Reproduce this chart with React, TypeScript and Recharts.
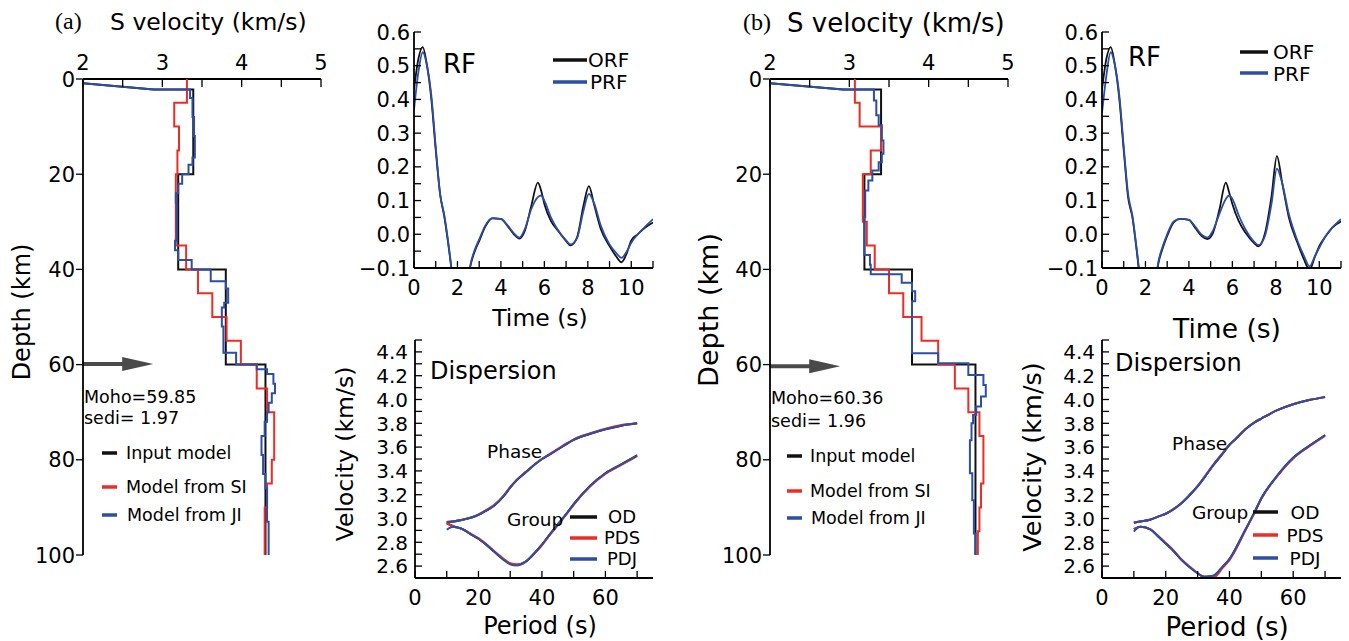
import React from "react";
import {
  ScatterChart,
  Scatter,
  LineChart,
  Line,
  XAxis,
  YAxis,
  ReferenceLine,
} from "recharts";

const BLACK = "#111111";
const RED = "#EE2C24";
const BLUE = "#2D4EA5";
const ARROW = "#4A4A4A";
const FONT = "DejaVu Sans";

// ---- S-velocity profiles: [velocity km/s, depth km] ----
const INPUT_A: [number, number][] = [
  [2.0, 0.9], [2.89, 2.2], [3.39, 2.2], [3.39, 20], [3.2, 20], [3.2, 40],
  [3.8, 40], [3.8, 60], [4.3, 60], [4.3, 100],
];
const SI_A: [number, number][] = [
  [3.31, 0], [3.31, 5], [3.15, 5], [3.15, 10], [3.21, 10], [3.21, 15],
  [3.19, 15], [3.19, 20], [3.17, 20], [3.17, 35], [3.3, 35], [3.3, 40],
  [3.45, 40], [3.45, 45], [3.63, 45], [3.63, 50], [3.81, 50], [3.81, 55],
  [3.99, 55], [3.99, 60], [4.19, 60], [4.19, 65], [4.32, 65], [4.32, 70],
  [4.41, 70], [4.41, 80], [4.38, 80], [4.38, 85], [4.32, 85], [4.32, 90],
  [4.29, 90], [4.29, 100],
];
const JI_A: [number, number][] = [
  [2.0, 0.9], [2.89, 2.2], [3.35, 2.2], [3.35, 4], [3.38, 4], [3.38, 8],
  [3.4, 8], [3.4, 12], [3.41, 12], [3.41, 16.5], [3.38, 16.5], [3.38, 18],
  [3.33, 18], [3.33, 20], [3.25, 20], [3.25, 22], [3.2, 22], [3.2, 24],
  [3.17, 24], [3.17, 26], [3.18, 26], [3.18, 34], [3.16, 34], [3.16, 36],
  [3.2, 36], [3.2, 38], [3.37, 38], [3.37, 40], [3.61, 40], [3.61, 42.5],
  [3.8, 42.5], [3.8, 44], [3.83, 44], [3.83, 47], [3.78, 47], [3.78, 48],
  [3.75, 48], [3.75, 52], [3.77, 52], [3.77, 57.5], [3.93, 57.5], [3.93, 60],
  [4.19, 60], [4.19, 61], [4.32, 61], [4.32, 62], [4.4, 62], [4.4, 64],
  [4.42, 64], [4.42, 66], [4.38, 66], [4.38, 68], [4.34, 68], [4.34, 70],
  [4.32, 70], [4.32, 72], [4.29, 72], [4.29, 75], [4.25, 75], [4.25, 79],
  [4.27, 79], [4.27, 83], [4.3, 83], [4.3, 86], [4.32, 86], [4.32, 93],
  [4.34, 93], [4.34, 100],
];
const INPUT_B: [number, number][] = [
  [2.0, 0.9], [2.92, 2.2], [3.4, 2.2], [3.4, 20], [3.19, 20], [3.19, 40],
  [3.79, 40], [3.79, 60], [4.59, 60], [4.59, 100],
];
const SI_B: [number, number][] = [
  [3.07, 0], [3.07, 5], [3.13, 5], [3.13, 10], [3.4, 10], [3.4, 15],
  [3.27, 15], [3.27, 20], [3.17, 20], [3.17, 30], [3.22, 30], [3.22, 35],
  [3.32, 35], [3.32, 40], [3.5, 40], [3.5, 45], [3.68, 45], [3.68, 50],
  [3.91, 50], [3.91, 55], [4.12, 55], [4.12, 60], [4.33, 60], [4.33, 65],
  [4.5, 65], [4.5, 70], [4.64, 70], [4.64, 75], [4.69, 75], [4.69, 85],
  [4.66, 85], [4.66, 90], [4.64, 90], [4.64, 95], [4.62, 95], [4.62, 100],
];
const JI_B: [number, number][] = [
  [2.0, 0.9], [2.92, 2.2], [3.31, 2.2], [3.31, 4.5], [3.34, 4.5], [3.34, 7.6],
  [3.37, 7.6], [3.37, 9.7], [3.41, 9.7], [3.41, 12.9], [3.43, 12.9], [3.43, 15.7],
  [3.41, 15.7], [3.41, 17.5], [3.37, 17.5], [3.37, 19.2], [3.29, 19.2], [3.29, 21.3],
  [3.24, 21.3], [3.24, 23.4], [3.2, 23.4], [3.2, 29], [3.19, 29], [3.19, 37],
  [3.26, 37], [3.26, 39], [3.27, 39], [3.27, 41], [3.66, 41], [3.66, 42.8],
  [3.79, 42.8], [3.79, 44.6], [3.83, 44.6], [3.83, 46.7], [3.79, 46.7], [3.79, 57.6],
  [4.12, 57.6], [4.12, 59.7], [4.5, 59.7], [4.5, 62.2], [4.69, 62.2], [4.69, 64.3],
  [4.72, 64.3], [4.72, 66.7], [4.66, 66.7], [4.66, 68.8], [4.6, 68.8], [4.6, 70.6],
  [4.56, 70.6], [4.56, 72.3], [4.54, 72.3], [4.54, 75.9], [4.52, 75.9], [4.52, 82.8],
  [4.55, 82.8], [4.55, 88.5], [4.57, 88.5], [4.57, 95.5], [4.59, 95.5], [4.59, 100],
];
const MOHO_A = 59.85;
const MOHO_B = 60.36;
const SEDI_A = 1.97;
const SEDI_B = 1.96;

// ---- receiver functions ----
const RF_T = [
  0, 0.2, 0.4, 0.6, 0.8, 1.0, 1.2, 1.4, 1.6, 1.8, 2.0, 2.2, 2.4, 2.6, 2.8, 3.0,
  3.3, 3.6, 4.0, 4.3, 4.6, 4.85, 5.1, 5.4, 5.7, 5.85, 6.0, 6.3, 6.6, 7.0, 7.2,
  7.5, 7.8, 8.05, 8.3, 8.6, 9.0, 9.3, 9.55, 9.8, 10.0, 10.3, 10.6, 11.0,
];
const ORF_A = [
  0.43, 0.52, 0.555, 0.5, 0.4, 0.25, 0.12, 0.05, -0.04, -0.14, -0.22, -0.24,
  -0.18, -0.093, -0.05, -0.02, 0.025, 0.047, 0.046, 0.025, 0.0, -0.013, 0.01,
  0.085, 0.153, 0.13, 0.09, 0.04, 0.013, -0.02, -0.033, -0.01, 0.085, 0.143,
  0.085, 0.015, -0.035, -0.065, -0.083, -0.055, -0.018, 0.0, 0.018, 0.035,
];
const PRF_A = [
  0.37, 0.48, 0.54, 0.5, 0.41, 0.26, 0.12, 0.055, -0.035, -0.14, -0.22, -0.24,
  -0.18, -0.09, -0.045, -0.015, 0.028, 0.048, 0.045, 0.027, 0.003, -0.01,
  0.015, 0.075, 0.11, 0.115, 0.1, 0.05, 0.015, -0.018, -0.03, -0.012, 0.07,
  0.12, 0.09, 0.025, -0.03, -0.055, -0.07, -0.05, -0.025, 0.0, 0.02, 0.045,
];
const ORF_B = [
  0.43, 0.52, 0.555, 0.5, 0.4, 0.25, 0.11, 0.05, -0.05, -0.16, -0.24, -0.25,
  -0.17, -0.085, -0.04, -0.005, 0.035, 0.046, 0.043, 0.018, -0.006, -0.014,
  0.003, 0.072, 0.153, 0.125, 0.09, 0.038, 0.005, -0.026, -0.036, 0.003,
  0.112, 0.232, 0.15, 0.05, -0.026, -0.075, -0.105, -0.066, -0.035, -0.005,
  0.02, 0.038,
];
const PRF_B = [
  0.36, 0.47, 0.54, 0.5, 0.41, 0.26, 0.12, 0.055, -0.045, -0.16, -0.24, -0.25,
  -0.17, -0.08, -0.035, 0.0, 0.038, 0.046, 0.043, 0.022, -0.002, -0.01, 0.01,
  0.06, 0.105, 0.115, 0.105, 0.055, 0.015, -0.022, -0.032, -0.005, 0.09,
  0.195, 0.15, 0.06, -0.02, -0.065, -0.095, -0.065, -0.04, -0.005, 0.02, 0.045,
];

// ---- dispersion curves ----
const PERIOD = [10, 12, 15, 18, 20, 22, 25, 28, 30, 32, 35, 38, 40, 42, 45, 48, 50, 55, 60, 65, 70];
const PHASE_A_OD = [2.97, 2.975, 2.99, 3.01, 3.03, 3.06, 3.11, 3.19, 3.26, 3.32, 3.39, 3.46, 3.5, 3.53, 3.58, 3.63, 3.66, 3.71, 3.75, 3.78, 3.8];
const PHASE_A_PDS = [2.97, 2.975, 2.99, 3.01, 3.035, 3.065, 3.115, 3.195, 3.265, 3.325, 3.395, 3.46, 3.5, 3.535, 3.585, 3.635, 3.665, 3.715, 3.755, 3.785, 3.8];
const PHASE_A_PDJ = [2.97, 2.975, 2.99, 3.01, 3.03, 3.06, 3.11, 3.19, 3.26, 3.32, 3.39, 3.46, 3.5, 3.53, 3.58, 3.63, 3.66, 3.71, 3.75, 3.78, 3.8];
const GROUP_A_OD = [2.96, 2.935, 2.91, 2.86, 2.83, 2.79, 2.72, 2.655, 2.62, 2.61, 2.64, 2.72, 2.78, 2.85, 2.95, 3.05, 3.12, 3.27, 3.38, 3.455, 3.53];
const GROUP_A_PDS = [2.96, 2.935, 2.91, 2.865, 2.835, 2.795, 2.725, 2.66, 2.625, 2.615, 2.64, 2.715, 2.775, 2.845, 2.945, 3.045, 3.115, 3.265, 3.375, 3.45, 3.525];
const GROUP_A_PDJ = [2.905, 2.93, 2.91, 2.86, 2.83, 2.79, 2.72, 2.65, 2.615, 2.605, 2.64, 2.72, 2.78, 2.85, 2.95, 3.05, 3.12, 3.27, 3.38, 3.455, 3.53];
const PHASE_B_OD = [2.965, 2.975, 2.99, 3.02, 3.04, 3.07, 3.13, 3.21, 3.27, 3.34, 3.45, 3.55, 3.62, 3.67, 3.75, 3.81, 3.84, 3.91, 3.96, 3.995, 4.02];
const PHASE_B_PDS = [2.965, 2.975, 2.99, 3.02, 3.04, 3.07, 3.13, 3.215, 3.275, 3.345, 3.455, 3.555, 3.62, 3.67, 3.75, 3.81, 3.84, 3.91, 3.96, 3.995, 4.02];
const PHASE_B_PDJ = [2.965, 2.975, 2.99, 3.02, 3.04, 3.07, 3.13, 3.21, 3.27, 3.34, 3.45, 3.55, 3.62, 3.67, 3.75, 3.81, 3.84, 3.91, 3.96, 3.995, 4.02];
const GROUP_B_OD = [2.91, 2.93, 2.91, 2.84, 2.79, 2.74, 2.65, 2.58, 2.54, 2.51, 2.52, 2.6, 2.66, 2.75, 2.905, 3.06, 3.17, 3.36, 3.51, 3.61, 3.7];
const GROUP_B_PDS = [2.91, 2.93, 2.91, 2.845, 2.795, 2.745, 2.655, 2.585, 2.54, 2.51, 2.505, 2.59, 2.65, 2.74, 2.9, 3.055, 3.165, 3.355, 3.505, 3.605, 3.695];
const GROUP_B_PDJ = [2.89, 2.93, 2.91, 2.84, 2.79, 2.74, 2.65, 2.58, 2.54, 2.51, 2.52, 2.6, 2.66, 2.75, 2.905, 3.06, 3.17, 3.36, 3.51, 3.61, 3.7];

// ---- ticks ----
const VEL_LABELS = [2, 3, 4, 5];
const VEL_TICKS = [2, 2.5, 3, 3.5, 4, 4.5, 5];
const DEPTH_LABELS = [0, 20, 40, 60, 80, 100];
const DEPTH_TICKS = [0, 10, 20, 30, 40, 50, 60, 70, 80, 90, 100];
const RF_X_LABELS = [0, 2, 4, 6, 8, 10];
const RF_X_TICKS = [0, 1, 2, 3, 4, 5, 6, 7, 8, 9, 10, 11];
const RF_Y_LABELS = [-0.1, 0, 0.1, 0.2, 0.3, 0.4, 0.5, 0.6];
const RF_Y_TICKS = [-0.1, -0.05, 0, 0.05, 0.1, 0.15, 0.2, 0.25, 0.3, 0.35, 0.4, 0.45, 0.5, 0.55, 0.6];
const DISP_X_LABELS = [0, 20, 40, 60];
const DISP_X_TICKS = [0, 10, 20, 30, 40, 50, 60, 70];
const DISP_Y_LABELS = [2.6, 2.8, 3.0, 3.2, 3.4, 3.6, 3.8, 4.0, 4.2, 4.4];
const DISP_Y_TICKS = [2.5, 2.6, 2.7, 2.8, 2.9, 3.0, 3.1, 3.2, 3.3, 3.4, 3.5, 3.6, 3.7, 3.8, 3.9, 4.0, 4.1, 4.2, 4.3, 4.4, 4.5];

const frame = { stroke: "#000", strokeWidth: 1.8 };

type Side = "top" | "bottom" | "left" | "right";
type TickOpt = {
  len?: number;
  labels?: number[];
  gap?: number;
  size?: number;
  out?: boolean;
  fmt?: (v: number) => string;
};

// draws inward (or outward) tick marks, plus a label where one is wanted
function makeTick(side: Side, opt: TickOpt = {}) {
  const len = opt.len ?? 7;
  const gap = opt.gap ?? 4;
  const size = opt.size ?? 21;
  const fmt = opt.fmt ?? ((v: number) => String(v));
  return (props: any) => {
    const { x, y, payload } = props;
    const v = Number(payload.value);
    const s = opt.out ? -1 : 1;
    const labelled = (opt.labels ?? []).some((l) => Math.abs(l - v) < 1e-6);
    const textProps = {
      fontFamily: FONT,
      fontSize: size,
      fill: "#000",
      stroke: "none",
      dy: "0.36em",
    };
    let line: React.ReactNode = null;
    let label: React.ReactNode = null;
    if (side === "top") {
      line = <line x1={x} y1={y} x2={x} y2={y + s * len} />;
      if (labelled)
        label = (
          <text x={x} y={y - gap} textAnchor="middle" {...textProps}>
            {fmt(v)}
          </text>
        );
    } else if (side === "bottom") {
      line = <line x1={x} y1={y} x2={x} y2={y - s * len} />;
      if (labelled)
        label = (
          <text x={x} y={y + gap} textAnchor="middle" {...textProps}>
            {fmt(v)}
          </text>
        );
    } else if (side === "left") {
      line = <line x1={x} y1={y} x2={x + s * len} y2={y} />;
      if (labelled)
        label = (
          <text x={x - gap} y={y} textAnchor="end" {...textProps}>
            {fmt(v)}
          </text>
        );
    } else {
      line = <line x1={x} y1={y} x2={x - s * len} y2={y} />;
    }
    return (
      <g stroke="#000" strokeWidth={1.3}>
        {line}
        {label}
      </g>
    );
  };
}

const oneDecimal = (v: number) =>
  v < 0 ? "\u2212" + Math.abs(v).toFixed(1) : v.toFixed(1);

const toPts = (arr: [number, number][]) => arr.map(([v, d]) => ({ v, d }));
const noDot = () => <g />;

function arrowShape(props: any) {
  const { x1, y1, x2 } = props;
  const head = 31;
  return (
    <g>
      <line x1={x1} y1={y1} x2={x2 - head + 2} y2={y1} stroke={ARROW} strokeWidth={4} />
      <polygon
        points={`${x2 - head},${y1 - 7} ${x2},${y1} ${x2 - head},${y1 + 7}`}
        fill={ARROW}
      />
    </g>
  );
}

type ProfileProps = {
  left: number;
  marginLeft: number;
  marginRight: number;
  input: [number, number][];
  si: [number, number][];
  ji: [number, number][];
  moho: number;
};

function ProfileChart({ left, marginLeft, marginRight, input, si, ji, moho }: ProfileProps) {
  return (
    <div style={{ position: "absolute", left, top: 0 }}>
      <ScatterChart
        width={345}
        height={580}
        margin={{ top: 49, right: marginRight, bottom: 25, left: marginLeft }}
      >
        <XAxis
          xAxisId="v"
          orientation="top"
          type="number"
          dataKey="v"
          domain={[2, 5]}
          allowDataOverflow
          ticks={VEL_TICKS}
          interval={0}
          height={30}
          tickSize={0}
          tickMargin={0}
          tickLine={false}
          axisLine={frame}
          tick={makeTick("top", { len: 8, labels: VEL_LABELS, gap: 17, size: 21 })}
        />
        <XAxis
          xAxisId="vb"
          orientation="bottom"
          type="number"
          domain={[2, 5]}
          allowDataOverflow
          ticks={VEL_TICKS}
          interval={0}
          height={0}
          tickSize={0}
          tickMargin={0}
          tickLine={false}
          axisLine={frame}
          tick={makeTick("bottom", { len: 8 })}
        />
        <YAxis
          yAxisId="d"
          type="number"
          dataKey="d"
          domain={[0, 100]}
          reversed
          allowDataOverflow
          ticks={DEPTH_LABELS}
          interval={0}
          width={50}
          tickSize={0}
          tickMargin={0}
          tickLine={false}
          axisLine={frame}
          tick={makeTick("left", { len: 7, out: true, labels: DEPTH_LABELS, gap: 8, size: 21 })}
        />
        <YAxis
          yAxisId="dr"
          orientation="right"
          type="number"
          domain={[0, 100]}
          reversed
          allowDataOverflow
          ticks={DEPTH_TICKS}
          interval={0}
          width={0}
          tickSize={0}
          tickMargin={0}
          tickLine={false}
          axisLine={frame}
          tick={makeTick("right", { len: 8 })}
        />
        <Scatter
          xAxisId="v"
          yAxisId="d"
          data={toPts(input)}
          fill={BLACK}
          line={{ stroke: BLACK, strokeWidth: 2 }}
          shape={noDot}
          isAnimationActive={false}
        />
        <Scatter
          xAxisId="v"
          yAxisId="d"
          data={toPts(si)}
          fill={RED}
          line={{ stroke: RED, strokeWidth: 2 }}
          shape={noDot}
          isAnimationActive={false}
        />
        <Scatter
          xAxisId="v"
          yAxisId="d"
          data={toPts(ji)}
          fill={BLUE}
          line={{ stroke: BLUE, strokeWidth: 2 }}
          shape={noDot}
          isAnimationActive={false}
        />
        <ReferenceLine
          xAxisId="v"
          yAxisId="d"
          segment={[
            { x: 2, y: moho },
            { x: 2.885, y: moho },
          ]}
          shape={arrowShape}
        />
      </ScatterChart>
    </div>
  );
}

type RFProps = {
  left: number;
  width: number;
  marginLeft: number;
  marginRight: number;
  orf: number[];
  prf: number[];
};

function RFChart({ left, width, marginLeft, marginRight, orf, prf }: RFProps) {
  const rows = RF_T.map((t, i) => ({ t, orf: orf[i], prf: prf[i] }));
  return (
    <div style={{ position: "absolute", left, top: 0 }}>
      <LineChart
        width={width}
        height={330}
        data={rows}
        margin={{ top: 32, right: marginRight, bottom: 32, left: marginLeft }}
      >
        <XAxis
          xAxisId="t"
          orientation="bottom"
          type="number"
          dataKey="t"
          domain={[0, 11]}
          allowDataOverflow
          ticks={RF_X_TICKS}
          interval={0}
          height={30}
          tickSize={0}
          tickMargin={0}
          tickLine={false}
          axisLine={frame}
          tick={makeTick("bottom", { len: 7, labels: RF_X_LABELS, gap: 19, size: 21 })}
        />
        <XAxis
          xAxisId="tt"
          orientation="top"
          type="number"
          domain={[0, 11]}
          allowDataOverflow
          ticks={RF_X_TICKS}
          interval={0}
          height={0}
          tickSize={0}
          tickMargin={0}
          tickLine={false}
          axisLine={frame}
          tick={makeTick("top", { len: 7 })}
        />
        <YAxis
          yAxisId="a"
          type="number"
          domain={[-0.1, 0.6]}
          allowDataOverflow
          ticks={RF_Y_TICKS}
          interval={0}
          width={50}
          tickSize={0}
          tickMargin={0}
          tickLine={false}
          axisLine={frame}
          tick={makeTick("left", { len: 7, labels: RF_Y_LABELS, gap: 4, size: 21, fmt: oneDecimal })}
        />
        <YAxis
          yAxisId="ar"
          orientation="right"
          type="number"
          domain={[-0.1, 0.6]}
          allowDataOverflow
          ticks={RF_Y_TICKS}
          interval={0}
          width={0}
          tickSize={0}
          tickMargin={0}
          tickLine={false}
          axisLine={frame}
          tick={makeTick("right", { len: 7 })}
        />
        <Line
          xAxisId="t"
          yAxisId="a"
          type="monotone"
          dataKey="orf"
          stroke={BLACK}
          strokeWidth={1.8}
          dot={false}
          activeDot={false}
          isAnimationActive={false}
        />
        <Line
          xAxisId="t"
          yAxisId="a"
          type="monotone"
          dataKey="prf"
          stroke={BLUE}
          strokeWidth={1.8}
          dot={false}
          activeDot={false}
          isAnimationActive={false}
        />
      </LineChart>
    </div>
  );
}

type DispSet = { od: number[]; pds: number[]; pdj: number[] };
type DispProps = {
  left: number;
  width: number;
  marginLeft: number;
  marginRight: number;
  phase: DispSet;
  group: DispSet;
};

function DispersionChart({ left, width, marginLeft, marginRight, phase, group }: DispProps) {
  const rows = PERIOD.map((p, i) => ({
    p,
    phOD: phase.od[i],
    phPDS: phase.pds[i],
    phPDJ: phase.pdj[i],
    grOD: group.od[i],
    grPDS: group.pds[i],
    grPDJ: group.pdj[i],
  }));
  const series: [string, string][] = [
    ["grOD", BLACK],
    ["phOD", BLACK],
    ["grPDS", RED],
    ["phPDS", RED],
    ["grPDJ", BLUE],
    ["phPDJ", BLUE],
  ];
  return (
    <div style={{ position: "absolute", left, top: 330 }}>
      <LineChart
        width={width}
        height={311}
        data={rows}
        margin={{ top: 10, right: marginRight, bottom: 33, left: marginLeft }}
      >
        <XAxis
          xAxisId="p"
          orientation="bottom"
          type="number"
          dataKey="p"
          domain={[0, 75]}
          allowDataOverflow
          ticks={DISP_X_TICKS}
          interval={0}
          height={30}
          tickSize={0}
          tickMargin={0}
          tickLine={false}
          axisLine={frame}
          tick={makeTick("bottom", { len: 7, labels: DISP_X_LABELS, gap: 19, size: 21 })}
        />
        <XAxis
          xAxisId="pt"
          orientation="top"
          type="number"
          domain={[0, 75]}
          allowDataOverflow
          ticks={DISP_X_TICKS}
          interval={0}
          height={0}
          tickSize={0}
          tickMargin={0}
          tickLine={false}
          axisLine={frame}
          tick={makeTick("top", { len: 7 })}
        />
        <YAxis
          yAxisId="c"
          type="number"
          domain={[2.5, 4.5]}
          allowDataOverflow
          ticks={DISP_Y_TICKS}
          interval={0}
          width={50}
          tickSize={0}
          tickMargin={0}
          tickLine={false}
          axisLine={frame}
          tick={makeTick("left", { len: 7, labels: DISP_Y_LABELS, gap: 7, size: 20, fmt: oneDecimal })}
        />
        <YAxis
          yAxisId="cr"
          orientation="right"
          type="number"
          domain={[2.5, 4.5]}
          allowDataOverflow
          ticks={DISP_Y_TICKS}
          interval={0}
          width={0}
          tickSize={0}
          tickMargin={0}
          tickLine={false}
          axisLine={frame}
          tick={makeTick("right", { len: 7 })}
        />
        {series.map(([key, color]) => (
          <Line
            key={key}
            xAxisId="p"
            yAxisId="c"
            type="monotone"
            dataKey={key}
            stroke={color}
            strokeWidth={2}
            dot={false}
            activeDot={false}
            isAnimationActive={false}
          />
        ))}
      </LineChart>
    </div>
  );
}

function T({
  x,
  y,
  size,
  children,
  anchor = "start",
  rotate = false,
  serif = false,
}: {
  x: number;
  y: number;
  size: number;
  children: React.ReactNode;
  anchor?: "start" | "middle" | "end";
  rotate?: boolean;
  serif?: boolean;
}) {
  return (
    <text
      x={rotate ? 0 : x}
      y={rotate ? 0 : y}
      transform={rotate ? `translate(${x},${y}) rotate(-90)` : undefined}
      textAnchor={anchor}
      dy="0.36em"
      fontSize={size}
      fontFamily={serif ? "Liberation Serif" : FONT}
      fill="#000"
    >
      {children}
    </text>
  );
}

function Swatch({ x1, x2, y, color }: { x1: number; x2: number; y: number; color: string }) {
  return <line x1={x1} x2={x2} y1={y} y2={y} stroke={color} strokeWidth={3.5} />;
}

function Annotations() {
  return (
    <svg
      width={1349}
      height={641}
      style={{ position: "absolute", left: 0, top: 0, pointerEvents: "none" }}
    >
      {/* panel (a) */}
      <T x={55} y={20} size={24} serif>(a)</T>
      <T x={110} y={22} size={23.5}>S velocity (km/s)</T>
      <T x={21} y={312} size={24} anchor="middle" rotate>Depth (km)</T>
      <T x={84} y={397} size={17.5}>{`Moho=${MOHO_A.toFixed(2)}`}</T>
      <T x={84} y={418} size={17.5}>{`sedi= ${SEDI_A.toFixed(2)}`}</T>
      <Swatch x1={102} x2={117} y={453} color={BLACK} />
      <Swatch x1={102} x2={117} y={487} color={RED} />
      <Swatch x1={102} x2={117} y={515} color={BLUE} />
      <T x={126} y={453} size={17.5}>Input model</T>
      <T x={126} y={487} size={17.5}>Model from SI</T>
      <T x={127} y={515} size={17.5}>Model from JI</T>

      <T x={443} y={64} size={26}>RF</T>
      <Swatch x1={553} x2={587} y={60} color={BLACK} />
      <Swatch x1={553} x2={587} y={82} color={BLUE} />
      <T x={588} y={60} size={20}>ORF</T>
      <T x={590} y={82} size={20}>PRF</T>
      <T x={540} y={318} size={23.5} anchor="middle">Time (s)</T>

      <T x={345} y={454} size={23.5} anchor="middle" rotate>Velocity (km/s)</T>
      <T x={540} y={625} size={24} anchor="middle">Period (s)</T>
      <T x={430} y={370} size={24}>Dispersion</T>
      <T x={487} y={451} size={18.5}>Phase</T>
      <T x={507} y={519} size={18.5}>Group</T>
      <Swatch x1={570} x2={597} y={517} color={BLACK} />
      <Swatch x1={570} x2={597} y={538} color={RED} />
      <Swatch x1={570} x2={597} y={559} color={BLUE} />
      <T x={622} y={517} size={18} anchor="middle">OD</T>
      <T x={622} y={538} size={18} anchor="middle">PDS</T>
      <T x={622} y={559} size={18} anchor="middle">PDJ</T>

      {/* panel (b) */}
      <T x={743} y={21} size={24} serif>(b)</T>
      <T x={787} y={23} size={26}>S velocity (km/s)</T>
      <T x={708} y={310} size={27} anchor="middle" rotate>Depth (km)</T>
      <T x={771} y={398} size={17.5}>{`Moho=${MOHO_B.toFixed(2)}`}</T>
      <T x={771} y={421} size={17.5}>{`sedi= ${SEDI_B.toFixed(2)}`}</T>
      <Swatch x1={787} x2={802} y={456} color={BLACK} />
      <Swatch x1={787} x2={802} y={491} color={RED} />
      <Swatch x1={787} x2={802} y={518} color={BLUE} />
      <T x={810} y={456} size={17.5}>Input model</T>
      <T x={810} y={491} size={17.5}>Model from SI</T>
      <T x={811} y={518} size={17.5}>Model from JI</T>

      <T x={1128} y={57} size={26}>RF</T>
      <Swatch x1={1240} x2={1268} y={52} color={BLACK} />
      <Swatch x1={1240} x2={1268} y={73} color={BLUE} />
      <T x={1273} y={52} size={20}>ORF</T>
      <T x={1273} y={74} size={20}>PRF</T>
      <T x={1227} y={328} size={26.5} anchor="middle">Time (s)</T>

      <T x={1032} y={457} size={25.5} anchor="middle" rotate>Velocity (km/s)</T>
      <T x={1227} y={627} size={26} anchor="middle">Period (s)</T>
      <T x={1115} y={362} size={24}>Dispersion</T>
      <T x={1172} y={443} size={18.5}>Phase</T>
      <T x={1192} y={512} size={18.5}>Group</T>
      <Swatch x1={1253} x2={1278} y={512} color={BLACK} />
      <Swatch x1={1253} x2={1278} y={535} color={RED} />
      <Swatch x1={1253} x2={1278} y={558} color={BLUE} />
      <T x={1305} y={512} size={18.5} anchor="middle">OD</T>
      <T x={1305} y={535} size={18.5} anchor="middle">PDS</T>
      <T x={1305} y={558} size={18.5} anchor="middle">PDJ</T>
    </svg>
  );
}

export default function App() {
  return (
    <div
      style={{
        position: "absolute",
        left: 0,
        top: 0,
        width: 1349,
        height: 641,
        background: "#fff",
        overflow: "hidden",
        fontFamily: FONT,
      }}
    >
      <ProfileChart left={0} marginLeft={33} marginRight={24} input={INPUT_A} si={SI_A} ji={JI_A} moho={MOHO_A} />
      <ProfileChart left={680} marginLeft={40} marginRight={17} input={INPUT_B} si={SI_B} ji={JI_B} moho={MOHO_B} />
      <RFChart left={340} width={330} marginLeft={24} marginRight={17} orf={ORF_A} prf={PRF_A} />
      <RFChart left={1010} width={339} marginLeft={42} marginRight={8} orf={ORF_B} prf={PRF_B} />
      <DispersionChart
        left={330}
        width={340}
        marginLeft={35}
        marginRight={17}
        phase={{ od: PHASE_A_OD, pds: PHASE_A_PDS, pdj: PHASE_A_PDJ }}
        group={{ od: GROUP_A_OD, pds: GROUP_A_PDS, pdj: GROUP_A_PDJ }}
      />
      <DispersionChart
        left={1010}
        width={339}
        marginLeft={42}
        marginRight={8}
        phase={{ od: PHASE_B_OD, pds: PHASE_B_PDS, pdj: PHASE_B_PDJ }}
        group={{ od: GROUP_B_OD, pds: GROUP_B_PDS, pdj: GROUP_B_PDJ }}
      />
      <Annotations />
    </div>
  );
}
